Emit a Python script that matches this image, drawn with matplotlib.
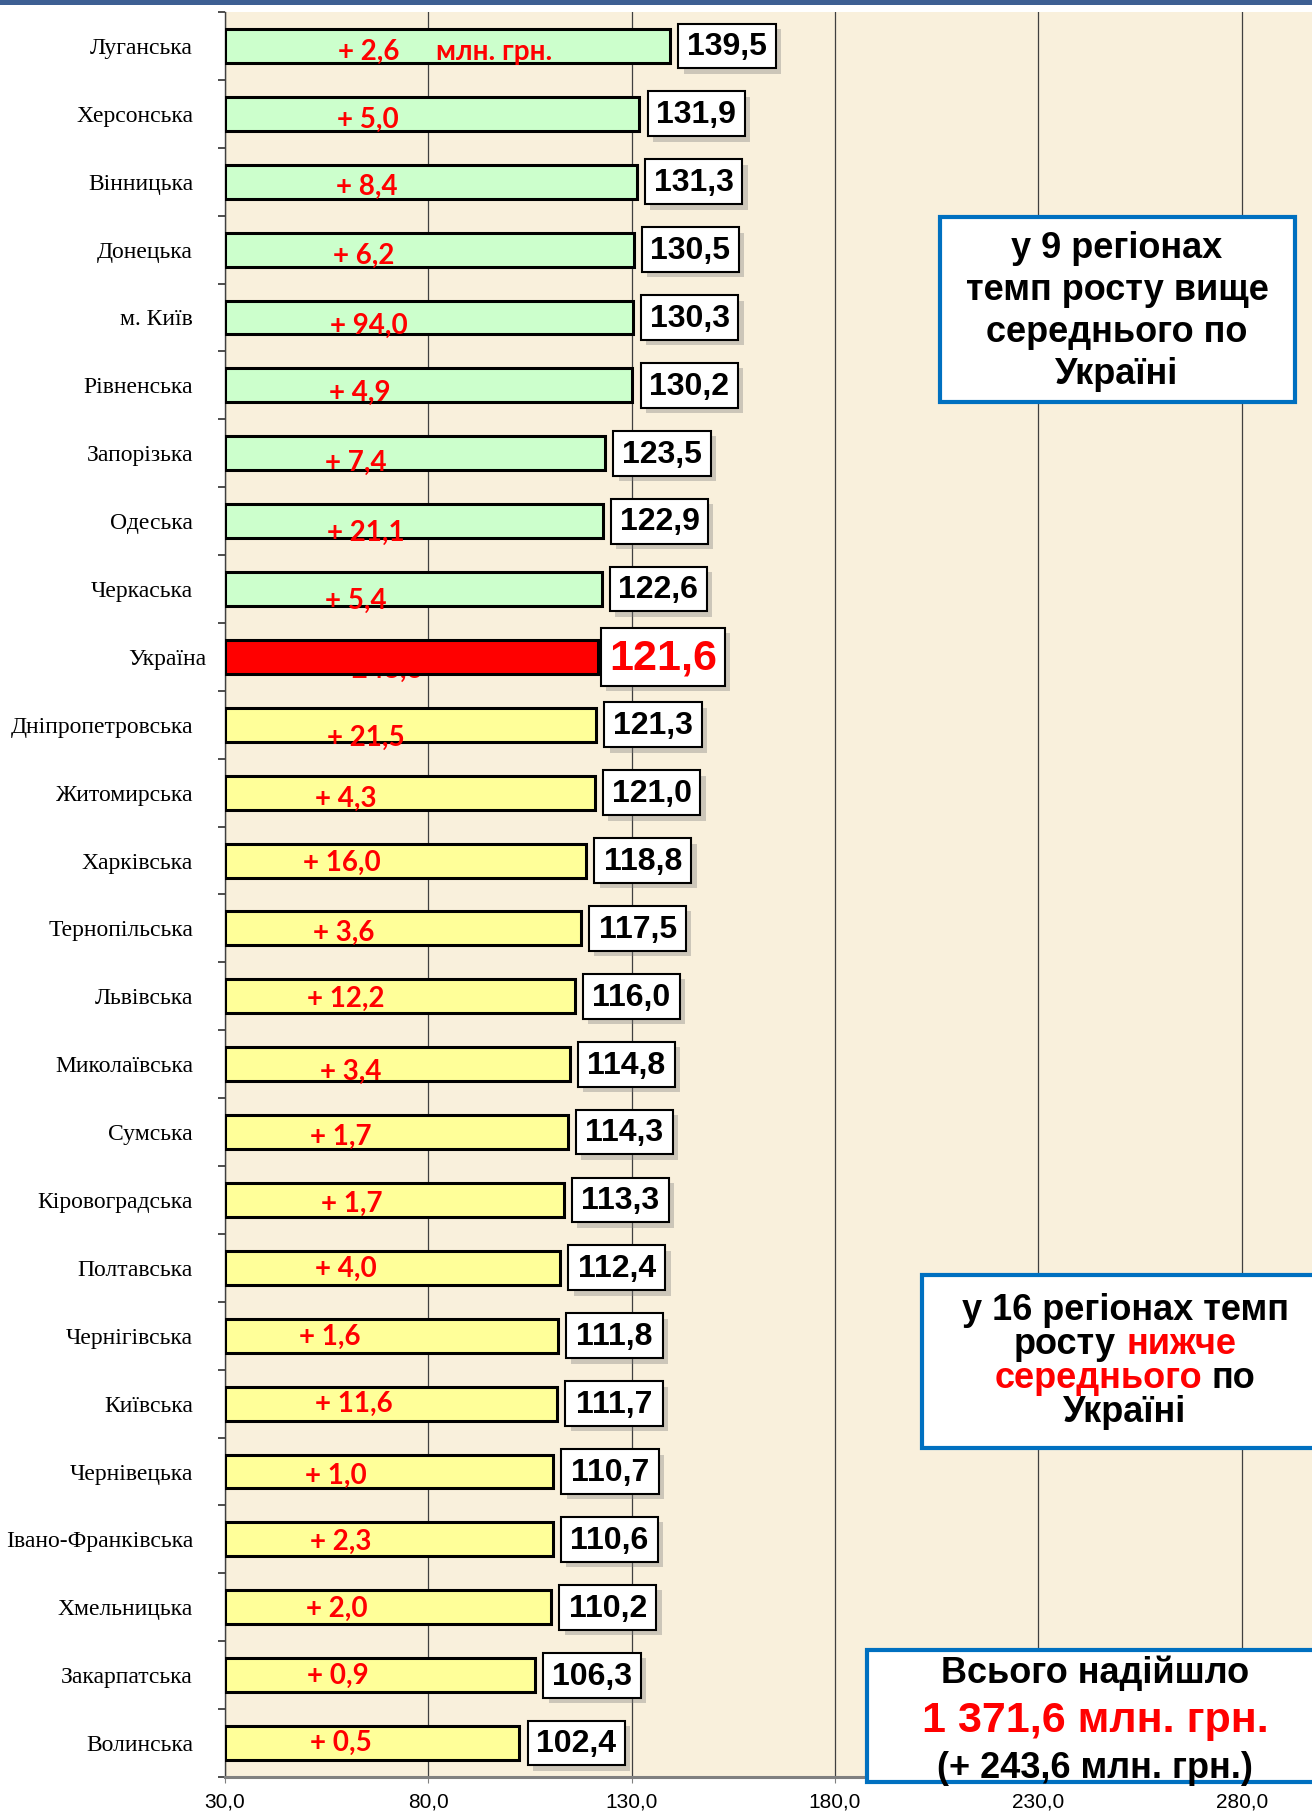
import matplotlib
matplotlib.use("Agg")
import matplotlib.pyplot as plt
from matplotlib.patches import Rectangle
from matplotlib.transforms import ScaledTranslation

# Темп росту надходжень по регіонах, %
REGIONS = [
    "Луганська", "Херсонська", "Вінницька", "Донецька", "м. Київ", "Рівненська",
    "Запорізька", "Одеська", "Черкаська", "Україна", "Дніпропетровська",
    "Житомирська", "Харківська", "Тернопільська", "Львівська", "Миколаївська",
    "Сумська", "Кіровоградська", "Полтавська", "Чернігівська", "Київська",
    "Чернівецька", "Івано-Франківська", "Хмельницька", "Закарпатська", "Волинська",
]
GROWTH = [
    139.5, 131.9, 131.3, 130.5, 130.3, 130.2, 123.5, 122.9, 122.6, 121.6, 121.3,
    121.0, 118.8, 117.5, 116.0, 114.8, 114.3, 113.3, 112.4, 111.8, 111.7, 110.7,
    110.6, 110.2, 106.3, 102.4,
]
# приріст, млн. грн.
INCREMENT = [
    2.6, 5.0, 8.4, 6.2, 94.0, 4.9, 7.4, 21.1, 5.4, 243.6, 21.5, 4.3, 16.0, 3.6,
    12.2, 3.4, 1.7, 1.7, 4.0, 1.6, 11.6, 1.0, 2.3, 2.0, 0.9, 0.5,
]
AVERAGE_REGION = "Україна"
X_TICKS = [30, 80, 130, 180, 230, 280]
X_TICK_LABELS = ["30,0", "80,0", "130,0", "180,0", "230,0", "280,0"]

# where the red increment labels sit (x in data units, y shift in rows)
LABEL_X = [57.9, 57.6, 57.3, 56.5, 55.9, 55.6, 54.5, 55.0, 54.5, 55.6, 55.0, 52.2,
           49.3, 51.6, 50.2, 53.3, 51.0, 53.6, 52.2, 48.2, 52.2, 49.6, 50.8, 49.9,
           50.2, 50.8]
LABEL_DY = [0.09, 0.09, 0.08, 0.09, 0.13, 0.11, 0.14, 0.18, 0.18, 0.19, 0.19, 0.09,
            0.04, 0.06, 0.04, 0.11, 0.07, 0.06, 0.02, 0.02, 0.01, 0.06, 0.04,
            0.02, 0.01, -0.01]

W, H = 1312, 1812
SANS = ["Liberation Sans", "DejaVu Sans"]
SERIF = ["Liberation Serif", "DejaVu Serif"]
LABEL_FONT = ["Lato", "DejaVu Sans"]
BLUE = "#0070c0"


def fmt(v):
    return f"{v:.1f}".replace(".", ",")


def fx(px):
    return px / W


def fy(py):
    return 1 - py / H


fig = plt.figure(figsize=(W / 100, H / 100), dpi=100)
fig.patch.set_facecolor("white")
ax = fig.add_axes([fx(225), fy(1777), 1098 / W, 1765 / H])
ax.set_facecolor("#f9f0dc")
ax.set_xlim(30, 300)
ax.set_ylim(len(REGIONS) - 0.5, -0.5)

avg_i = REGIONS.index(AVERAGE_REGION)
colors = []
for i in range(len(REGIONS)):
    if i < avg_i:
        colors.append("#ccffcc")
    elif i == avg_i:
        colors.append("#ff0000")
    else:
        colors.append("#ffff99")

ys = list(range(len(REGIONS)))
ax.barh(ys, [v - 30 for v in GROWTH], left=30, height=0.5, color=colors,
        edgecolor="black", linewidth=2.2, zorder=3)

# value boxes with shadow
for i, v in enumerate(GROWTH):
    if i == avg_i:
        x0, w, h, size, col = v + 0.8, 30.5, 0.85, 31, "#ff0000"
    else:
        x0, w, h, size, col = v + 2.0, 23.9, 0.66, 23, "black"
    ax.add_patch(Rectangle((x0 + 1.3, i - h / 2 + 0.08), w, h, facecolor="#7a7a7a",
                           alpha=0.35, edgecolor="none", zorder=4))
    ax.add_patch(Rectangle((x0, i - h / 2), w, h, facecolor="white",
                           edgecolor="black", linewidth=1.5, zorder=5))
    ax.text(x0 + w / 2, i + 0.02, fmt(v), ha="center", va="center", fontsize=size,
            fontweight="bold", color=col, family=SANS, zorder=6)

# red increments
for i, inc in enumerate(INCREMENT):
    ax.text(LABEL_X[i], i + LABEL_DY[i], "+ " + fmt(inc), color="#ff0000",
            fontsize=20, fontweight="bold", family=LABEL_FONT, ha="left",
            va="center", zorder=2 if i == avg_i else 4)
ax.text(81.9, LABEL_DY[0], "млн. грн.", color="#ff0000", fontsize=20,
        fontweight="bold", family=LABEL_FONT, ha="left", va="center", zorder=4)

# axes styling
ax.set_axisbelow(True)
ax.set_xticks(X_TICKS)
ax.set_xticklabels(X_TICK_LABELS, family=SANS, fontsize=15)
ax.grid(axis="x", color="#404040", linewidth=0.9)
ax.tick_params(axis="x", length=4, color="#808080", pad=7)
ax.set_yticks(ys)
ax.set_yticklabels(REGIONS, family=SERIF, fontsize=17)
ax.set_yticks([i - 0.5 for i in range(len(REGIONS) + 1)], minor=True)
ax.tick_params(axis="y", which="major", length=0, pad=23)
ax.tick_params(axis="y", which="minor", length=5, width=1.2, color="#303030")
for lab in ax.get_yticklabels():
    if lab.get_text() == AVERAGE_REGION:
        lab.set_transform(lab.get_transform() + ScaledTranslation(0.13, 0, fig.dpi_scale_trans))
for s in ("top", "right"):
    ax.spines[s].set_visible(False)
ax.spines["left"].set_color("#404040")
ax.spines["left"].set_linewidth(1.0)
ax.spines["bottom"].set_color("#808080")
ax.spines["bottom"].set_linewidth(2.2)

# top band
fig.add_artist(Rectangle((0, fy(5)), 1, 5 / H, transform=fig.transFigure,
                         facecolor="#3d5f93", edgecolor="none"))


def box(x0, y0, x1, y1):
    fig.add_artist(Rectangle((fx(x0), fy(y1)), (x1 - x0) / W, (y1 - y0) / H,
                             transform=fig.transFigure, facecolor="white",
                             edgecolor=BLUE, linewidth=3, zorder=10))


renderer = fig.canvas.get_renderer()


def text_width(s, size):
    t = fig.text(0, 0, s, fontsize=size, fontweight="bold", family=SANS)
    w = t.get_window_extent(renderer=renderer).width
    t.remove()
    return w


def line(segs, xc, yc, size):
    widths = [text_width(s, size) for s, _ in segs]
    sp = text_width("н н", size) - text_width("нн", size)
    total = sum(widths) + sp * (len(segs) - 1)
    x = xc - total / 2
    for (s, c), w in zip(segs, widths):
        fig.text(fx(x), fy(yc), s, color=c, fontsize=size, fontweight="bold",
                 family=SANS, ha="left", va="center", zorder=11)
        x += w + sp


# box: above average
box(940, 217, 1295, 402)
for s, yc in zip(["у 9 регіонах", "темп росту вище", "середнього по", "Україні"],
                 [248, 291, 333, 375]):
    line([(s, "black")], 1117, yc, 26)

# box: below average
box(922, 1275, 1340, 1448)
line([("у 16 регіонах темп", "black")], 1125, 1310, 26)
line([("росту", "black"), ("нижче", "#ff0000")], 1125, 1344, 26)
line([("середнього", "#ff0000"), ("по", "black")], 1125, 1378, 26)
line([("Україні", "black")], 1125, 1413, 26)

# box: total
box(867, 1650, 1340, 1782)
line([("Всього надійшло", "black")], 1095, 1673, 26)
line([("1 371,6 млн. грн.", "#ff0000")], 1095, 1721, 31)
line([("(+ 243,6 млн. грн.)", "black")], 1095, 1768, 26)

fig.savefig("out.png", dpi=100)
